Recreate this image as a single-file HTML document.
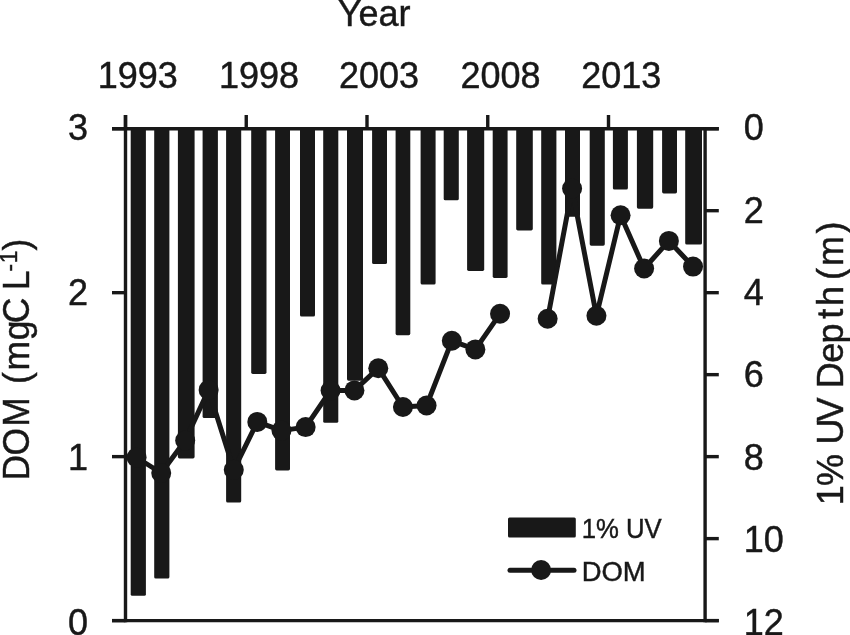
<!DOCTYPE html><html><head><meta charset="utf-8"><style>html,body{margin:0;padding:0;background:#fff;overflow:hidden}svg{display:block;filter:grayscale(1)}text{font-family:"Liberation Sans",sans-serif;fill:#181818;stroke:#181818;stroke-width:0.45px}</style></head><body>
<svg width="850" height="635" viewBox="0 0 850 635">
<rect width="850" height="635" fill="#fff"/>
<path d="M130.70 128.70H145.90V594.20Q145.90 595.80 144.30 595.80H132.30Q130.70 595.80 130.70 594.20Z" fill="#181818"/>
<path d="M154.20 128.70H169.40V577.00Q169.40 578.60 167.80 578.60H155.80Q154.20 578.60 154.20 577.00Z" fill="#181818"/>
<path d="M177.90 128.70H194.60V456.80Q194.60 458.40 193.00 458.40H179.50Q177.90 458.40 177.90 456.80Z" fill="#181818"/>
<path d="M202.60 128.70H217.90V416.40Q217.90 418.00 216.30 418.00H204.20Q202.60 418.00 202.60 416.40Z" fill="#181818"/>
<path d="M226.10 128.70H241.20V501.00Q241.20 502.60 239.60 502.60H227.70Q226.10 502.60 226.10 501.00Z" fill="#181818"/>
<path d="M251.20 128.70H266.50V372.30Q266.50 373.90 264.90 373.90H252.80Q251.20 373.90 251.20 372.30Z" fill="#181818"/>
<path d="M275.10 128.70H290.00V468.80Q290.00 470.40 288.40 470.40H276.70Q275.10 470.40 275.10 468.80Z" fill="#181818"/>
<path d="M300.00 128.70H315.00V314.90Q315.00 316.50 313.40 316.50H301.60Q300.00 316.50 300.00 314.90Z" fill="#181818"/>
<path d="M323.20 128.70H338.30V421.20Q338.30 422.80 336.70 422.80H324.80Q323.20 422.80 323.20 421.20Z" fill="#181818"/>
<path d="M347.00 128.70H363.00V379.10Q363.00 380.70 361.40 380.70H348.60Q347.00 380.70 347.00 379.10Z" fill="#181818"/>
<path d="M372.10 128.70H387.00V262.50Q387.00 264.10 385.40 264.10H373.70Q372.10 264.10 372.10 262.50Z" fill="#181818"/>
<path d="M395.60 128.70H410.30V333.60Q410.30 335.20 408.70 335.20H397.20Q395.60 335.20 395.60 333.60Z" fill="#181818"/>
<path d="M420.60 128.70H435.60V282.90Q435.60 284.50 434.00 284.50H422.20Q420.60 284.50 420.60 282.90Z" fill="#181818"/>
<path d="M443.70 128.70H458.80V198.70Q458.80 200.30 457.20 200.30H445.30Q443.70 200.30 443.70 198.70Z" fill="#181818"/>
<path d="M467.10 128.70H484.20V269.30Q484.20 270.90 482.60 270.90H468.70Q467.10 270.90 467.10 269.30Z" fill="#181818"/>
<path d="M492.70 128.70H507.60V276.30Q507.60 277.90 506.00 277.90H494.30Q492.70 277.90 492.70 276.30Z" fill="#181818"/>
<path d="M516.20 128.70H532.80V228.80Q532.80 230.40 531.20 230.40H517.80Q516.20 230.40 516.20 228.80Z" fill="#181818"/>
<path d="M541.20 128.70H556.40V282.90Q556.40 284.50 554.80 284.50H542.80Q541.20 284.50 541.20 282.90Z" fill="#181818"/>
<path d="M565.00 128.70H580.00V215.10Q580.00 216.70 578.40 216.70H566.60Q565.00 216.70 565.00 215.10Z" fill="#181818"/>
<path d="M589.70 128.70H604.80V244.10Q604.80 245.70 603.20 245.70H591.30Q589.70 245.70 589.70 244.10Z" fill="#181818"/>
<path d="M612.90 128.70H627.90V188.00Q627.90 189.60 626.30 189.60H614.50Q612.90 189.60 612.90 188.00Z" fill="#181818"/>
<path d="M636.90 128.70H653.20V207.10Q653.20 208.70 651.60 208.70H638.50Q636.90 208.70 636.90 207.10Z" fill="#181818"/>
<path d="M662.10 128.70H677.00V191.80Q677.00 193.40 675.40 193.40H663.70Q662.10 193.40 662.10 191.80Z" fill="#181818"/>
<path d="M685.20 128.70H702.00V242.90Q702.00 244.50 700.40 244.50H686.80Q685.20 244.50 685.20 242.90Z" fill="#181818"/>
<g stroke="#181818" stroke-width="3.4" fill="none">
<line x1="112" y1="128.70" x2="718.8" y2="128.70"/>
<line x1="112" y1="620.60" x2="718.8" y2="620.60"/>
<line x1="125.50" y1="115" x2="125.50" y2="622.20"/>
<line x1="705.10" y1="127.10" x2="705.10" y2="622.20"/>
<line x1="112" y1="620.60" x2="125.50" y2="620.60"/>
<line x1="112" y1="456.63" x2="125.50" y2="456.63"/>
<line x1="112" y1="292.67" x2="125.50" y2="292.67"/>
<line x1="112" y1="128.70" x2="125.50" y2="128.70"/>
<line x1="705.10" y1="128.70" x2="718.8" y2="128.70"/>
<line x1="705.10" y1="210.68" x2="718.8" y2="210.68"/>
<line x1="705.10" y1="292.67" x2="718.8" y2="292.67"/>
<line x1="705.10" y1="374.65" x2="718.8" y2="374.65"/>
<line x1="705.10" y1="456.63" x2="718.8" y2="456.63"/>
<line x1="705.10" y1="538.62" x2="718.8" y2="538.62"/>
<line x1="705.10" y1="620.60" x2="718.8" y2="620.60"/>
<line x1="125.50" y1="115" x2="125.50" y2="128.70"/>
<line x1="246.25" y1="115" x2="246.25" y2="128.70"/>
<line x1="367.00" y1="115" x2="367.00" y2="128.70"/>
<line x1="487.75" y1="115" x2="487.75" y2="128.70"/>
<line x1="608.50" y1="115" x2="608.50" y2="128.70"/>
</g>
<polyline fill="none" stroke="#181818" stroke-width="5.0" stroke-linejoin="round" points="136.57,457.50 161.22,473.00 185.18,440.50 208.62,389.90 233.78,469.80 257.33,421.90 281.48,430.60 305.62,427.10 330.57,390.50 354.43,390.40 378.28,368.20 402.93,407.00 426.57,405.50 451.83,340.80 475.38,349.40 500.03,313.80"/>
<polyline fill="none" stroke="#181818" stroke-width="5.0" stroke-linejoin="round" points="547.62,318.80 572.08,188.50 596.43,315.70 620.58,215.20 644.12,268.50 668.88,240.90 693.03,266.60"/>
<circle cx="136.57" cy="457.50" r="10.00" fill="#181818"/>
<circle cx="161.22" cy="473.00" r="10.00" fill="#181818"/>
<circle cx="185.18" cy="440.50" r="10.00" fill="#181818"/>
<circle cx="208.62" cy="389.90" r="10.00" fill="#181818"/>
<circle cx="233.78" cy="469.80" r="10.00" fill="#181818"/>
<circle cx="257.33" cy="421.90" r="10.00" fill="#181818"/>
<circle cx="281.48" cy="430.60" r="10.00" fill="#181818"/>
<circle cx="305.62" cy="427.10" r="10.00" fill="#181818"/>
<circle cx="330.57" cy="390.50" r="10.00" fill="#181818"/>
<circle cx="354.43" cy="390.40" r="10.00" fill="#181818"/>
<circle cx="378.28" cy="368.20" r="10.00" fill="#181818"/>
<circle cx="402.93" cy="407.00" r="10.00" fill="#181818"/>
<circle cx="426.57" cy="405.50" r="10.00" fill="#181818"/>
<circle cx="451.83" cy="340.80" r="10.00" fill="#181818"/>
<circle cx="475.38" cy="349.40" r="10.00" fill="#181818"/>
<circle cx="500.03" cy="313.80" r="10.00" fill="#181818"/>
<circle cx="547.62" cy="318.80" r="10.00" fill="#181818"/>
<circle cx="572.08" cy="188.50" r="10.00" fill="#181818"/>
<circle cx="596.43" cy="315.70" r="10.00" fill="#181818"/>
<circle cx="620.58" cy="215.20" r="10.00" fill="#181818"/>
<circle cx="644.12" cy="268.50" r="10.00" fill="#181818"/>
<circle cx="668.88" cy="240.90" r="10.00" fill="#181818"/>
<circle cx="693.03" cy="266.60" r="10.00" fill="#181818"/>
<g font-size="36">
<text x="137.70" y="88" text-anchor="middle">1993</text>
<text x="259.05" y="88" text-anchor="middle">1998</text>
<text x="379.00" y="88" text-anchor="middle">2003</text>
<text x="500.50" y="88" text-anchor="middle">2008</text>
<text x="621.20" y="88" text-anchor="middle">2013</text>
<text x="337.8" y="25.8">Year</text>
<text x="88" y="634.50" text-anchor="end">0</text>
<text x="88" y="469.90" text-anchor="end">1</text>
<text x="88" y="305.40" text-anchor="end">2</text>
<text x="88" y="140.20" text-anchor="end">3</text>
<text x="743.8" y="140.15">0</text>
<text x="743.8" y="222.80">2</text>
<text x="743.8" y="304.90">4</text>
<text x="743.8" y="387.30">6</text>
<text x="743.8" y="469.50">8</text>
<text x="743.8" y="552.00">10</text>
<text x="743.8" y="634.50">12</text>
</g>
<text transform="translate(29.3,479.5) rotate(-90) scale(0.945,1)" font-size="37.5" dx="-1.0 -0.58 1.11 3.7 0 1.75 0.63 -2.8 -2.6 0">DOM (mgC L<tspan font-size="24" dy="-12.5" dx="-0.9 0.69">-1</tspan><tspan dy="12.5">)</tspan></text>
<text transform="translate(843.4,505.3) rotate(-90)" font-size="36" dx="0 -0.8 -0.5 0 -3.0 -0.7 0 -0.5 -0.9 4.7 2.9 -4.0 0 2.0 2.5">1% UV Depth (m)</text>
<rect x="508" y="517.4" width="67.8" height="20.1" rx="1.5" fill="#181818"/>
<line x1="510" y1="570.3" x2="574" y2="570.3" stroke="#181818" stroke-width="5.0" stroke-linecap="round"/>
<circle cx="541.1" cy="570" r="10" fill="#181818"/>
<text x="581.7" y="538.2" font-size="28.5" textLength="80" lengthAdjust="spacingAndGlyphs">1% UV</text>
<text x="581.7" y="581" font-size="28" textLength="64" lengthAdjust="spacingAndGlyphs">DOM</text>
</svg></body></html>
